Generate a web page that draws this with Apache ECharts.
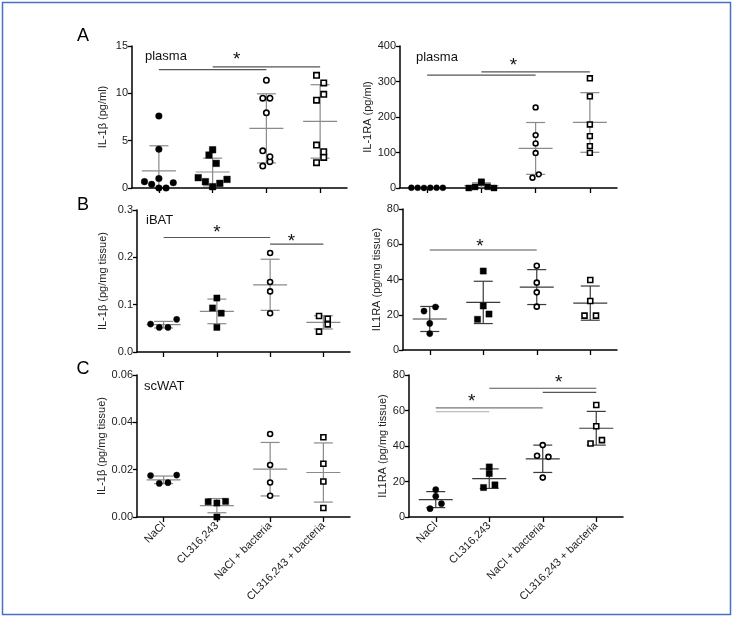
<!DOCTYPE html>
<html><head><meta charset="utf-8">
<script src="https://cdn.jsdelivr.net/npm/echarts/dist/echarts.min.js"></script>
<style>html,body{margin:0;padding:0;background:#fff}#c{width:733px;height:618px}</style>
</head><body><div id="c"></div>
<script>
// ---------------- DATA ----------------
const categories = ['NaCl', 'CL316,243', 'NaCl + bacteria', 'CL316,243 + bacteria'];

// A: plasma IL-1β (pg/ml)
const aIl1bNaCl      = [0.67, 0.39, 0.0, 0.0, 0.56, 1.0, 4.1, 7.6];
const aIl1bCL        = [1.09, 0.67, 0.14, 0.49, 0.91, 3.48, 2.6, 4.04];
const aIl1bNaClBact  = [2.32, 2.78, 3.93, 3.3, 7.94, 9.49, 9.49, 11.38];
const aIl1bCLBact    = [11.9, 11.1, 9.28, 9.9, 4.53, 3.83, 2.67, 3.23];
const aIl1bMean      = [1.8, 1.69, 6.3, 7.03];
const aIl1bSd        = [2.66, 1.46, 3.65, 3.88];
const aIl1bSigLines  = [[0, 2, 12.5], [1, 3, 12.8]];
const aIl1bStars     = [[1.45, 14.0]];
const aIl1bTicks     = [0, 5, 10, 15];

// A: plasma IL-1RA (pg/ml)
const aIl1raNaCl     = [0.8, 0.5, 0.3, 0.6, 0.9, 0.4];
const aIl1raCL       = [0.0, 3.0, 16.0, 17.5, 3.5, 0.0];
const aIl1raNaClBact = [29, 38.5, 98.4, 125.6, 149, 227];
const aIl1raCLBact   = [99, 118, 146, 179, 258, 309];
const aIl1raMean     = [0.6, 6.7, 111.5, 184.6];
const aIl1raSd       = [0.3, 8.0, 73, 84];
const aIl1raSigLines = [[0, 2, 318], [1, 3, 327]];
const aIl1raStars    = [[1.59, 355]];
const aIl1raTicks    = [0, 100, 200, 300, 400];

// B: iBAT IL-1β (pg/mg tissue)
const bIl1bNaCl      = [0.059, 0.052, 0.052, 0.069];
const bIl1bCL        = [0.052, 0.093, 0.082, 0.114];
const bIl1bNaClBact  = [0.082, 0.128, 0.148, 0.209];
const bIl1bCLBact    = [0.043, 0.0584, 0.076, 0.0704];
const bIl1bMean      = [0.0577, 0.0858, 0.142, 0.0626];
const bIl1bSd        = [0.007, 0.026, 0.054, 0.014];
const bIl1bSigLines  = [[0, 2, 0.242], [2, 3, 0.228]];
const bIl1bStars     = [[1.0, 0.26], [2.4, 0.242]];
const bIl1bTicks     = [0, 0.1, 0.2, 0.3];

// B: iBAT IL1RA (pg/mg tissue)
const bIl1raNaCl     = [9.3, 15.1, 22.1, 24.4];
const bIl1raCL       = [17.4, 20.4, 25.0, 44.8];
const bIl1raNaClBact = [24.6, 32.7, 38.2, 47.8];
const bIl1raCLBact   = [19.5, 19.5, 27.8, 39.7];
const bIl1raMean     = [17.6, 27.0, 35.7, 26.6];
const bIl1raSd       = [7.1, 12.0, 9.9, 9.7];
const bIl1raSigLines = [[0, 2, 56.7]];
const bIl1raStars    = [[0.94, 60.9]];
const bIl1raTicks    = [0, 20, 40, 60, 80];

// C: scWAT IL-1β (pg/mg tissue)
const cIl1bNaCl      = [0.0175, 0.0142, 0.0145, 0.0177];
const cIl1bCL        = [0.00645, 0.0059, 0.0066, 0.0];
const cIl1bNaClBact  = [0.009, 0.0146, 0.022, 0.0351];
const cIl1bCLBact    = [0.0038, 0.015, 0.0225, 0.0337];
const cIl1bMean      = [0.0157, 0.0048, 0.0202, 0.0188];
const cIl1bSd        = [0.0016, 0.003, 0.0113, 0.0125];
const cIl1bSigLines  = [];
const cIl1bStars     = [];
const cIl1bTicks     = [0, 0.02, 0.04, 0.06];

// C: scWAT IL1RA (pg/mg tissue)
const cIl1raNaCl     = [4.7, 7.5, 11.7, 15.4];
const cIl1raCL       = [16.6, 18.1, 24.5, 28.2];
const cIl1raNaClBact = [22.2, 34.5, 33.9, 40.5];
const cIl1raCLBact   = [41.4, 43.3, 51.1, 63.1];
const cIl1raMean     = [9.8, 21.6, 32.8, 50.0];
const cIl1raSd       = [4.5, 5.5, 7.7, 9.5];
const cIl1raSigLines = [[0, 2, 61.5], [0, 1, 59.3], [1, 3, 72.5], [2, 3, 70.2]];
const cIl1raStars    = [[0.67, 66.9], [2.3, 78.1]];
const cIl1raTicks    = [0, 20, 40, 60, 80];

// ---------------- LAYOUT / STYLE ----------------
const FONT = 'Liberation Sans, Arial, sans-serif';
const panels = [
  { groups:[aIl1bNaCl,aIl1bCL,aIl1bNaClBact,aIl1bCLBact], mean:aIl1bMean, sd:aIl1bSd, sig:aIl1bSigLines, stars:aIl1bStars, ticks:aIl1bTicks, dec:0,
    name:'IL-1β (pg/ml)', grid:{left:132, top:46, width:215, height:142}, nameGap:24, showX:false,
    spacing:7.2, tol:9.15, sym:6.6, bar:'#8a8a8a', sigColor:['#555','#555'] },
  { groups:[aIl1raNaCl,aIl1raCL,aIl1raNaClBact,aIl1raCLBact], mean:aIl1raMean, sd:aIl1raSd, sig:aIl1raSigLines, stars:aIl1raStars, ticks:aIl1raTicks, dec:0,
    name:'IL-1RA (pg/ml)', grid:{left:400, top:46, width:217, height:142}, nameGap:24, showX:false,
    spacing:6.3, tol:6, sym:6, bar:'#8a8a8a', sigColor:['#555','#555'] },
  { groups:[bIl1bNaCl,bIl1bCL,bIl1bNaClBact,bIl1bCLBact], mean:bIl1bMean, sd:bIl1bSd, sig:bIl1bSigLines, stars:bIl1bStars, ticks:bIl1bTicks, dec:1,
    name:'IL-1β (pg/mg tissue)', grid:{left:137, top:210, width:213, height:142}, nameGap:29, showX:false,
    spacing:8.7, tol:9, sym:6.2, bar:'#8a8a8a', sigColor:['#555','#555'] },
  { groups:[bIl1raNaCl,bIl1raCL,bIl1raNaClBact,bIl1raCLBact], mean:bIl1raMean, sd:bIl1raSd, sig:bIl1raSigLines, stars:bIl1raStars, ticks:bIl1raTicks, dec:0,
    name:'IL1RA (pg/mg tissue)', grid:{left:403, top:209, width:214, height:141}, nameGap:18, showX:false,
    spacing:11.5, tol:6.5, sym:6.2, bar:'#3a3a3a', sigColor:['#555'] },
  { groups:[cIl1bNaCl,cIl1bCL,cIl1bNaClBact,cIl1bCLBact], mean:cIl1bMean, sd:cIl1bSd, sig:cIl1bSigLines, stars:cIl1bStars, ticks:cIl1bTicks, dec:2,
    name:'IL-1β (pg/mg tissue)', grid:{left:137, top:375, width:213, height:142}, nameGap:29, showX:true,
    spacing:8.7, tol:9, sym:6.2, bar:'#8a8a8a', sigColor:[] },
  { groups:[cIl1raNaCl,cIl1raCL,cIl1raNaClBact,cIl1raCLBact], mean:cIl1raMean, sd:cIl1raSd, sig:cIl1raSigLines, stars:cIl1raStars, ticks:cIl1raTicks, dec:0,
    name:'IL1RA (pg/mg tissue)', grid:{left:409, top:375, width:214, height:142}, nameGap:18, showX:true,
    spacing:11.4, tol:5.5, sym:6.2, bar:'#3a3a3a', sigColor:['#777','#aaa','#555','#555'] }
];

// Row-based horizontal spreading of points (scatter dot plot)
function spread(ys, spacing, tol) {
  const order = ys.map((y, i) => i).sort((a, b) => (ys[b] - ys[a]) || (a - b));
  const off = new Array(ys.length).fill(0);
  let row = [], start = null;
  const flush = () => {
    row.sort((a, b) => a - b);
    row.forEach((k, j) => { off[k] = (j - (row.length - 1) / 2) * spacing; });
  };
  order.forEach(i => {
    if (start === null || start - ys[i] > tol) {
      if (row.length) flush();
      row = [i]; start = ys[i];
    } else row.push(i);
  });
  if (row.length) flush();
  return off;
}

function symbolShape(gi, x, y, s) {
  const filled = gi < 2, circle = gi % 2 === 0;
  const style = filled ? { fill: '#000', stroke: '#000', lineWidth: 0.4 }
                       : { fill: '#fff', stroke: '#000', lineWidth: 1.6 };
  const h = filled ? s / 2 : s / 2 - 0.6;
  if (circle) return { type: 'circle', shape: { cx: x, cy: y, r: h }, style };
  return { type: 'rect', shape: { x: x - h, y: y - h, width: 2 * h, height: 2 * h }, style };
}

function coordAt(api, x, y) {
  const x0 = Math.max(0, Math.min(2, Math.floor(x)));
  const p0 = api.coord([x0, y]), p1 = api.coord([x0 + 1, y]);
  return [p0[0] + (p1[0] - p0[0]) * (x - x0), p0[1]];
}

const grids = [], xAxes = [], yAxes = [], series = [];
panels.forEach((p, pi) => {
  grids.push(Object.assign({ containLabel: false }, p.grid));
  const yMin = p.ticks[0], yMax = p.ticks[p.ticks.length - 1];
  xAxes.push({
    gridIndex: pi, type: 'category', data: categories, boundaryGap: true,
    axisLine: { show: true, lineStyle: { color: '#000', width: 1.5 } },
    axisTick: { show: true, alignWithLabel: true, length: 5, lineStyle: { color: '#000', width: 1.3 } },
    axisLabel: { show: p.showX, rotate: 45, interval: 0, fontSize: 11, color: '#222', margin: 7, fontFamily: FONT },
    splitLine: { show: false }
  });
  yAxes.push({
    gridIndex: pi, type: 'value', min: yMin, max: yMax, interval: p.ticks[1] - p.ticks[0],
    axisLine: { show: true, lineStyle: { color: '#000', width: 1.5 } },
    axisTick: { show: true, length: 4, lineStyle: { color: '#000', width: 1.3 } },
    axisLabel: { fontSize: 11, color: '#222', margin: 4, fontFamily: FONT, formatter: v => v.toFixed(p.dec) },
    splitLine: { show: false },
    name: p.name, nameLocation: 'middle', nameGap: p.nameGap,
    nameTextStyle: { fontSize: 11, color: '#222', fontFamily: FONT }
  });

  // error bars (mean ± SD)
  series.push({
    type: 'custom', xAxisIndex: pi, yAxisIndex: pi, z: 3, silent: true,
    data: p.mean.map((m, i) => [i, m, p.sd[i]]),
    renderItem: (params, api) => {
      const i = api.value(0), m = api.value(1), s = api.value(2);
      const top = Math.min(m + s, yMax), bot = Math.max(m - s, yMin);
      const cm = api.coord([i, m]), ct = api.coord([i, top]), cb = api.coord([i, bot]);
      const ls = { stroke: p.bar, lineWidth: 1.2 };
      const ch = [
        { type: 'line', shape: { x1: cm[0], y1: ct[1], x2: cm[0], y2: cb[1] }, style: ls },
        { type: 'line', shape: { x1: cm[0] - 17, y1: cm[1], x2: cm[0] + 17, y2: cm[1] }, style: ls }
      ];
      if (m + s <= yMax) ch.push({ type: 'line', shape: { x1: cm[0] - 9.5, y1: ct[1], x2: cm[0] + 9.5, y2: ct[1] }, style: ls });
      if (m - s >= yMin) ch.push({ type: 'line', shape: { x1: cm[0] - 9.5, y1: cb[1], x2: cm[0] + 9.5, y2: cb[1] }, style: ls });
      return { type: 'group', children: ch };
    }
  });

  // points
  p.groups.forEach((vals, gi) => {
    series.push({
      type: 'custom', xAxisIndex: pi, yAxisIndex: pi, z: 5, clip: false,
      name: categories[gi],
      data: vals.map(v => [gi, v]),
      renderItem: (params, api) => {
        const pts = vals.map(v => api.coord([gi, v]));
        const offs = spread(pts.map(q => q[1]), p.spacing, p.tol);
        const c = pts[params.dataIndex];
        return symbolShape(gi, c[0] + offs[params.dataIndex], c[1], p.sym);
      }
    });
  });

  // significance lines
  if (p.sig.length) series.push({
    type: 'custom', xAxisIndex: pi, yAxisIndex: pi, z: 4, silent: true, clip: false,
    data: p.sig,
    renderItem: (params, api) => {
      const a = api.coord([api.value(0), api.value(2)]), b = api.coord([api.value(1), api.value(2)]);
      return { type: 'line', shape: { x1: a[0], y1: a[1], x2: b[0], y2: b[1] },
               style: { stroke: p.sigColor[params.dataIndex] || '#555', lineWidth: 1.1 } };
    }
  });
  if (p.stars.length) series.push({
    type: 'custom', xAxisIndex: pi, yAxisIndex: pi, z: 4, silent: true, clip: false,
    data: p.stars,
    renderItem: (params, api) => {
      const c = coordAt(api, api.value(0), api.value(1));
      return { type: 'text', x: c[0], y: c[1] + 4,
               style: { text: '*', fill: '#111', fontSize: 19, fontFamily: FONT, align: 'center', verticalAlign: 'middle' } };
    }
  });
});

const chart = echarts.init(document.getElementById('c'), null, { renderer: 'canvas' });
chart.setOption({
  animation: false,
  backgroundColor: '#fff',
  textStyle: { fontFamily: FONT },
  grid: grids, xAxis: xAxes, yAxis: yAxes, series: series,
  graphic: [
    { type: 'rect', shape: { x: 2.5, y: 2.5, width: 728, height: 612 }, style: { fill: 'none', stroke: '#4472c4', lineWidth: 1.5 }, silent: true },
    { type: 'text', x: 83, y: 36, style: { text: 'A', fontSize: 18, fill: '#000', fontFamily: FONT, align: 'center', verticalAlign: 'middle' } },
    { type: 'text', x: 83, y: 205, style: { text: 'B', fontSize: 18, fill: '#000', fontFamily: FONT, align: 'center', verticalAlign: 'middle' } },
    { type: 'text', x: 83, y: 369, style: { text: 'C', fontSize: 18, fill: '#000', fontFamily: FONT, align: 'center', verticalAlign: 'middle' } },
    { type: 'text', x: 145, y: 56, style: { text: 'plasma', fontSize: 13, fill: '#111', fontFamily: FONT, align: 'left', verticalAlign: 'middle' } },
    { type: 'text', x: 416, y: 57, style: { text: 'plasma', fontSize: 13, fill: '#111', fontFamily: FONT, align: 'left', verticalAlign: 'middle' } },
    { type: 'text', x: 146, y: 220, style: { text: 'iBAT', fontSize: 13, fill: '#111', fontFamily: FONT, align: 'left', verticalAlign: 'middle' } },
    { type: 'text', x: 144, y: 386, style: { text: 'scWAT', fontSize: 13, fill: '#111', fontFamily: FONT, align: 'left', verticalAlign: 'middle' } }
  ]
});
</script>
</body></html>
